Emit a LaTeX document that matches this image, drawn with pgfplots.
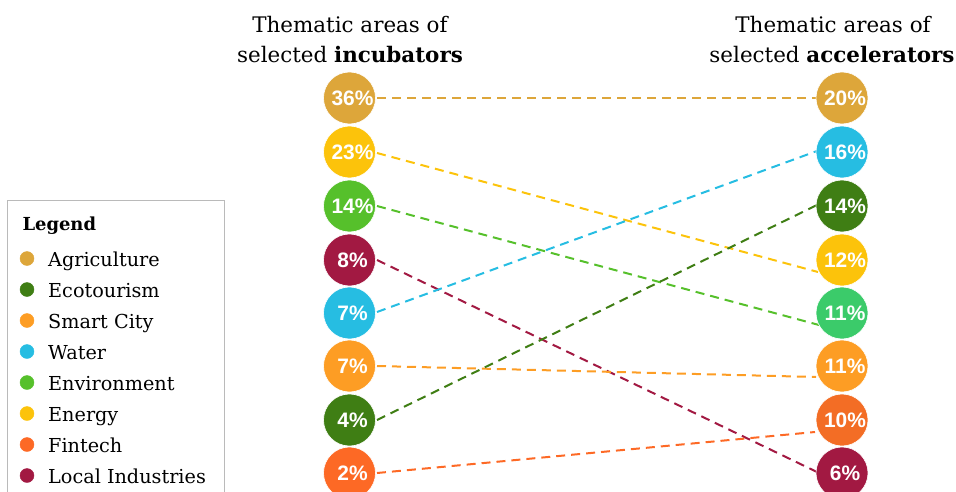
\documentclass[border=0pt]{standalone}
\usepackage{pgfplots}
\pgfplotsset{compat=1.18}
\usepackage{fontspec}
\setmainfont{DejaVu Serif}
\newfontfamily\numfont{Liberation Sans}
\definecolor{agri}{HTML}{DDA63A}
\definecolor{eco}{HTML}{3F7E14}
\definecolor{smart}{HTML}{FD9D24}
\definecolor{water}{HTML}{26BDE2}
\definecolor{env}{HTML}{56C02B}
\definecolor{envR}{HTML}{3BCB6A}
\definecolor{energy}{HTML}{FCC30B}
\definecolor{fin}{HTML}{FD6925}
\definecolor{finR}{HTML}{F36D25}
\definecolor{local}{HTML}{A21942}
\pgfplotsset{
  conn/.style={#1, line width=2bp, dash pattern=on 9bp off 6bp, no marks},
  circ/.style={only marks, mark=*, mark size=26bp, color=#1,
    mark options={draw=white, line width=0.6bp, fill=#1},
    nodes near coords, point meta=explicit symbolic,
    every node near coord/.append style={anchor=center, text=white, inner sep=0pt, xshift=3bp,
      font=\numfont\bfseries\fontsize{21}{21}\selectfont}},
  ldot/.style={only marks, mark=*, mark size=7bp, color=#1, mark options={draw=#1, fill=#1}}
}
\begin{document}
\begin{tikzpicture}
\begin{axis}[width=956bp, height=492bp, scale only axis,
  xmin=0, xmax=956, ymin=0, ymax=492, y dir=reverse, hide axis, clip=false]
% connectors
\addplot[conn=agri] coordinates {(377,98) (818,98)};
\addplot[conn=energy] coordinates {(377,153) (818,272)};
\addplot[conn=env] coordinates {(377,206) (819,325)};
\addplot[conn=local] coordinates {(377,260) (817,472)};
\addplot[conn=water] coordinates {(377,312) (817,151)};
\addplot[conn=smart] coordinates {(377,366) (816,377)};
\addplot[conn=eco] coordinates {(377,420) (817,205)};
\addplot[conn=fin] coordinates {(377,473) (815,432)};
% circles
\addplot[circ=agri] coordinates {(349.5,98) [36\%] (842,98) [20\%]};
\addplot[circ=energy] coordinates {(349.5,152) [23\%] (842,260) [12\%]};
\addplot[circ=env] coordinates {(349.5,206) [14\%]};
\addplot[circ=envR] coordinates {(842,313) [11\%]};
\addplot[circ=local] coordinates {(349.5,260) [8\%] (842,473) [6\%]};
\addplot[circ=water] coordinates {(349.5,313) [7\%] (842,152) [16\%]};
\addplot[circ=smart] coordinates {(349.5,366) [7\%] (842,366) [11\%]};
\addplot[circ=eco] coordinates {(349.5,420) [4\%] (842,206) [14\%]};
\addplot[circ=fin] coordinates {(349.5,473) [2\%]};
\addplot[circ=finR] coordinates {(842,420) [10\%]};
% legend
\draw[color=black!27, line width=1bp] (axis cs:7.5,200.5) rectangle (axis cs:224,520);
\node[anchor=base west, font=\bfseries\fontsize{18}{18}\selectfont] at (axis cs:19,230) {Legend};
\addplot[ldot=agri] coordinates {(27,258.5)};
\addplot[ldot=eco] coordinates {(27,289.5)};
\addplot[ldot=smart] coordinates {(27,320.5)};
\addplot[ldot=water] coordinates {(27,351.5)};
\addplot[ldot=env] coordinates {(27,382.5)};
\addplot[ldot=energy] coordinates {(27,413.5)};
\addplot[ldot=fin] coordinates {(27,444.5)};
\addplot[ldot=local] coordinates {(27,475.5)};
\begin{scope}[every node/.style={anchor=base west, inner sep=0pt, font=\fontsize{19.3}{19.3}\selectfont}]
\node at (axis cs:48,266.5) {Agriculture};
\node at (axis cs:48,297.5) {Ecotourism};
\node at (axis cs:48,328.5) {Smart City};
\node at (axis cs:48,359.5) {Water};
\node at (axis cs:48,390.5) {Environment};
\node at (axis cs:48,421.5) {Energy};
\node at (axis cs:48,452.5) {Fintech};
\node at (axis cs:48,483.5) {Local Industries};
\end{scope}
% titles
\begin{scope}[every node/.style={anchor=base, inner sep=0pt, font=\fontsize{21.5}{21.5}\selectfont}]
\node at (axis cs:350,33) {Thematic areas of};
\node at (axis cs:350,62.5) {selected \textbf{incubators}};
\node at (axis cs:833,33) {Thematic areas of};
\node at (axis cs:832,62.5) {selected \textbf{accelerators}};
\end{scope}
\end{axis}
\pgfresetboundingbox
\useasboundingbox (0,0) rectangle (956bp,492bp);
\end{tikzpicture}
\end{document}
